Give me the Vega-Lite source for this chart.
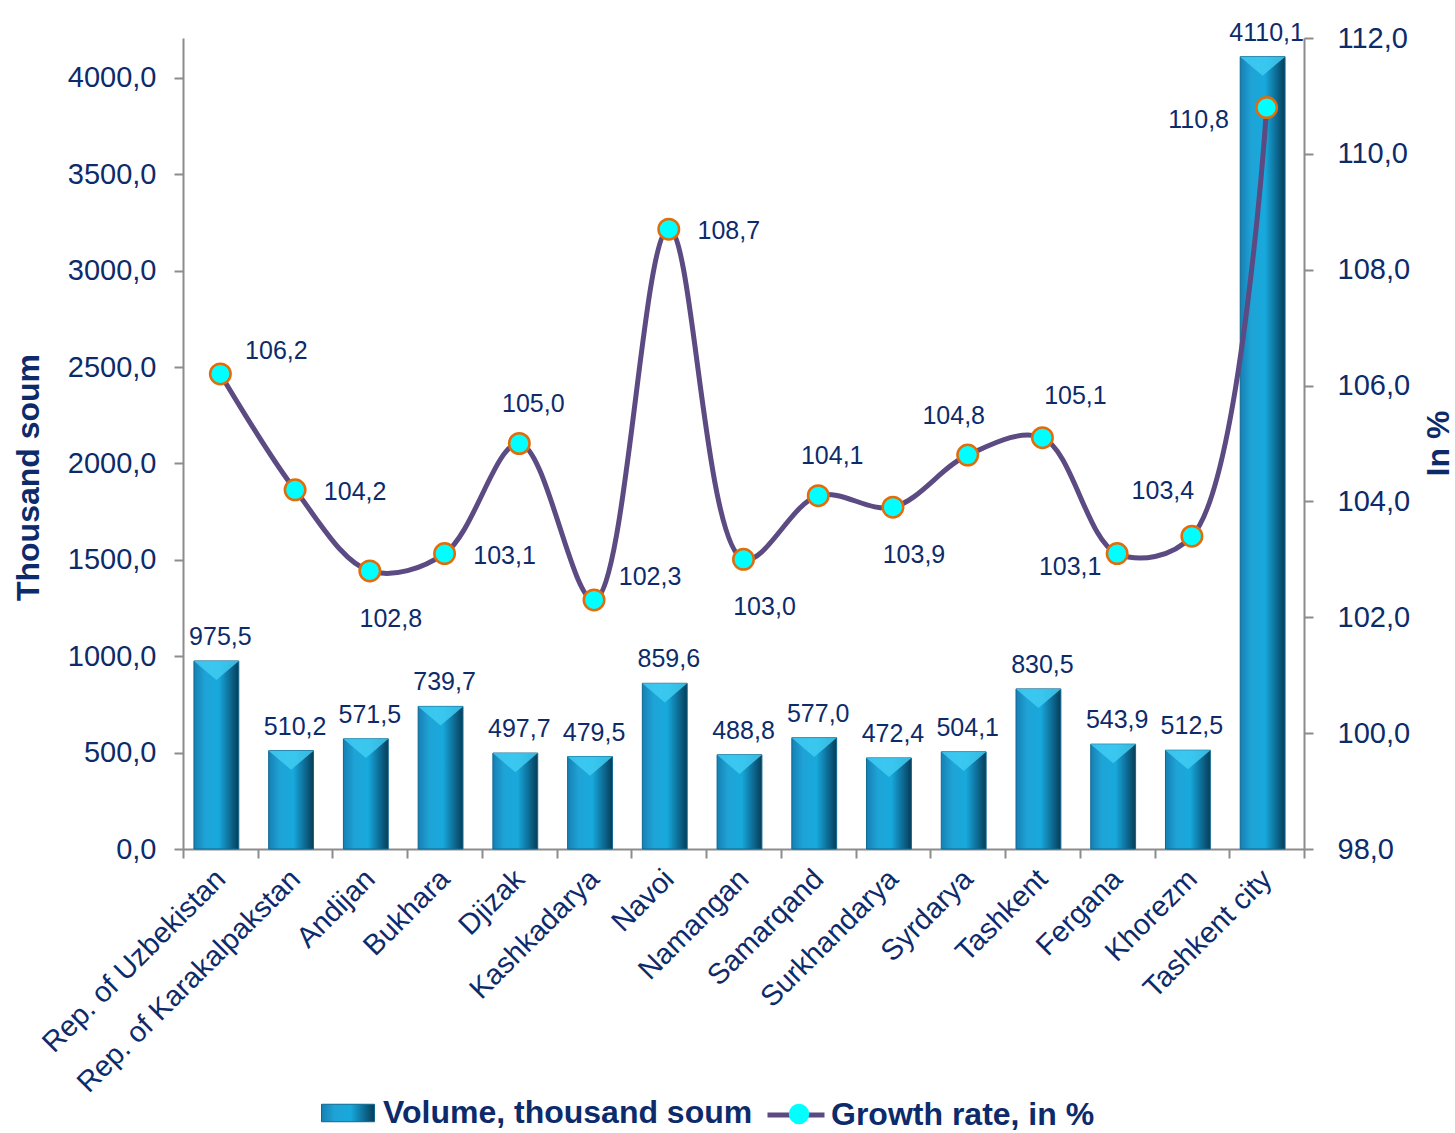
{
  "$schema": "https://vega.github.io/schema/vega-lite/v6.json",
  "width": 1121,
  "height": 811,
  "autosize": {"type": "none"},
  "padding": {"left": 183, "top": 38, "right": 151, "bottom": 284},
  "background": "white",
  "config": {
    "locale": {"number": {"decimal": ",", "thousands": "", "grouping": [3], "currency": ["", ""]}},
    "font": "Liberation Sans",
    "view": {"stroke": null},
    "axis": {
      "grid": false,
      "domainColor": "#8c8c8c",
      "tickColor": "#8c8c8c",
      "domainWidth": 2,
      "tickWidth": 2,
      "labelColor": "#0d2b6b",
      "labelFont": "Liberation Sans",
      "labelFontSize": 29,
      "titleColor": "#0d2b6b",
      "titleFont": "Liberation Sans",
      "titleFontSize": 32,
      "titleFontWeight": "bold"
    },
    "legend": {
      "padding": 0,
      "labelFont": "Liberation Sans",
      "labelFontSize": 32,
      "labelFontWeight": "bold",
      "labelColor": "#0d2b6b",
      "labelLimit": 0
    }
  },
  "data": {
    "values": [
      {"region": "Rep. of Uzbekistan", "volume": 975.5, "growth": 106.2},
      {"region": "Rep. of Karakalpakstan", "volume": 510.2, "growth": 104.2},
      {"region": "Andijan", "volume": 571.5, "growth": 102.8},
      {"region": "Bukhara", "volume": 739.7, "growth": 103.1},
      {"region": "Djizak", "volume": 497.7, "growth": 105.0},
      {"region": "Kashkadarya", "volume": 479.5, "growth": 102.3},
      {"region": "Navoi", "volume": 859.6, "growth": 108.7},
      {"region": "Namangan", "volume": 488.8, "growth": 103.0},
      {"region": "Samarqand", "volume": 577.0, "growth": 104.1},
      {"region": "Surkhandarya", "volume": 472.4, "growth": 103.9},
      {"region": "Syrdarya", "volume": 504.1, "growth": 104.8},
      {"region": "Tashkent", "volume": 830.5, "growth": 105.1},
      {"region": "Fergana", "volume": 543.9, "growth": 103.1},
      {"region": "Khorezm", "volume": 512.5, "growth": 103.4},
      {"region": "Tashkent city", "volume": 4110.1, "growth": 110.8}
    ]
  },
  "encoding": {
    "x": {
      "field": "region",
      "type": "nominal",
      "sort": null,
      "scale": {"paddingInner": 0, "paddingOuter": 0},
      "axis": {
        "title": null,
        "labelAngle": -45,
        "labelAlign": "right",
        "labelBaseline": "middle",
        "tickBand": "extent",
        "tickSize": 9,
        "labelPadding": 16,
        "labelFontSize": 29,
        "labelLimit": 0
      }
    }
  },
  "layer": [
    {
      "layer": [
        {
          "mark": {
            "type": "bar",
            "width": {"band": 0.6},
            "xOffset": -4,
            "strokeWidth": 1,
            "fill": {
              "gradient": "linear", "x1": 0, "x2": 1, "y1": 0, "y2": 0,
              "stops": [
                {"offset": 0, "color": "#1680b4"},
                {"offset": 0.25, "color": "#1fa3d6"},
                {"offset": 0.55, "color": "#18a9dc"},
                {"offset": 0.8, "color": "#0d6c96"},
                {"offset": 1, "color": "#073d57"}
              ]
            }
          },
          "encoding": {
            "y": {
              "field": "volume",
              "type": "quantitative",
              "scale": {"domain": [0, 4207], "nice": false, "zero": true},
              "axis": {
                "orient": "left",
                "values": [0, 500, 1000, 1500, 2000, 2500, 3000, 3500, 4000],
                "format": ".1f",
                "title": "Thousand soum",
                "tickSize": 9,
                "labelPadding": 18,
                "titleAngle": -90,
                "titleBaseline": "middle",
                "titleX": -155,
                "titleY": 439
              }
            },
            "stroke": {
              "datum": "Volume, thousand soum",
              "type": "nominal",
              "scale": {"range": ["#0e6790"]},
              "legend": {
                "orient": "none",
                "legendX": 138,
                "legendY": 1048,
                "title": null,
                "symbolType": "M-1,-0.33H1V0.33H-1Z",
                "symbolSize": 2809,
                "symbolFillColor": "#1a8dc0",
                "symbolStrokeColor": "#0e6790",
                "symbolStrokeWidth": 1,
                "labelOffset": 8
              }
            }
          }
        },
        {
          "mark": {
            "type": "point",
            "shape": "M-1,0L1,0L0,0.85Z",
            "size": 2025,
            "filled": true,
            "fill": "#3fcdf3",
            "opacity": 0.85,
            "strokeWidth": 0,
            "xOffset": -4
          },
          "encoding": {"y": {"field": "volume", "type": "quantitative"}}
        },
        {
          "mark": {"type": "text", "dy": -16, "baseline": "alphabetic", "align": "center", "fontSize": 25, "color": "#0d2b6b"},
          "encoding": {
            "y": {"field": "volume", "type": "quantitative"},
            "text": {"field": "volume", "type": "quantitative", "format": ".1f"}
          }
        }
      ]
    },
    {
      "layer": [
        {
          "mark": {"type": "line", "interpolate": "catmull-rom", "strokeWidth": 5},
          "encoding": {
            "y": {
              "field": "growth",
              "type": "quantitative",
              "scale": {"domain": [98, 112], "nice": false, "zero": false},
              "axis": {
                "orient": "right",
                "values": [98, 100, 102, 104, 106, 108, 110, 112],
                "format": ".1f",
                "title": "In %",
                "tickSize": 9,
                "labelPadding": 24,
                "titleAngle": -90,
                "titleBaseline": "middle",
                "titleX": 134,
                "titleY": 405
              }
            },
            "color": {
              "datum": "Growth rate, in %",
              "type": "nominal",
              "scale": {"range": ["#5c4a82"]},
              "legend": {
                "orient": "none",
                "legendX": 582,
                "legendY": 1046,
                "title": null,
                "symbolType": "M-1,0H1",
                "symbolSize": 3249,
                "symbolStrokeWidth": 5,
                "labelOffset": 4
              }
            }
          }
        },
        {
          "mark": {"type": "point", "filled": true, "fill": "#00ffff", "stroke": "#e36c09", "strokeWidth": 2.5, "size": 420, "opacity": 1},
          "encoding": {
            "y": {"field": "growth", "type": "quantitative"},
            "shape": {
              "datum": "Growth marker",
              "type": "nominal",
              "scale": {"range": ["circle"]},
              "legend": {
                "orient": "none",
                "legendX": 600,
                "legendY": 1060,
                "title": null,
                "symbolSize": 420,
                "symbolFillColor": "#00ffff",
                "symbolStrokeColor": "#e36c09",
                "symbolStrokeWidth": 2.5,
                "labelExpr": "''"
              }
            }
          }
        },
        {
          "transform": [{"filter": {"field": "region", "oneOf": ["Rep. of Uzbekistan", "Kashkadarya"]}}],
          "mark": {"type": "text", "dx": 56, "dy": -23, "fontSize": 25, "color": "#0d2b6b", "baseline": "middle"},
          "encoding": {"y": {"field": "growth", "type": "quantitative"}, "text": {"field": "growth", "type": "quantitative", "format": ".1f"}}
        },
        {
          "transform": [{"filter": {"field": "region", "oneOf": ["Rep. of Karakalpakstan", "Bukhara", "Navoi"]}}],
          "mark": {"type": "text", "dx": 60, "dy": 2, "fontSize": 25, "color": "#0d2b6b", "baseline": "middle"},
          "encoding": {"y": {"field": "growth", "type": "quantitative"}, "text": {"field": "growth", "type": "quantitative", "format": ".1f"}}
        },
        {
          "transform": [{"filter": {"field": "region", "oneOf": ["Andijan", "Namangan", "Surkhandarya"]}}],
          "mark": {"type": "text", "dx": 21, "dy": 48, "fontSize": 25, "color": "#0d2b6b", "baseline": "middle"},
          "encoding": {"y": {"field": "growth", "type": "quantitative"}, "text": {"field": "growth", "type": "quantitative", "format": ".1f"}}
        },
        {
          "transform": [{"filter": {"field": "region", "oneOf": ["Djizak", "Samarqand"]}}],
          "mark": {"type": "text", "dx": 14, "dy": -40, "fontSize": 25, "color": "#0d2b6b", "baseline": "middle"},
          "encoding": {"y": {"field": "growth", "type": "quantitative"}, "text": {"field": "growth", "type": "quantitative", "format": ".1f"}}
        },
        {
          "transform": [{"filter": {"field": "region", "oneOf": ["Syrdarya"]}}],
          "mark": {"type": "text", "dx": -14, "dy": -39, "fontSize": 25, "color": "#0d2b6b", "baseline": "middle"},
          "encoding": {"y": {"field": "growth", "type": "quantitative"}, "text": {"field": "growth", "type": "quantitative", "format": ".1f"}}
        },
        {
          "transform": [{"filter": {"field": "region", "oneOf": ["Tashkent"]}}],
          "mark": {"type": "text", "dx": 33, "dy": -42, "fontSize": 25, "color": "#0d2b6b", "baseline": "middle"},
          "encoding": {"y": {"field": "growth", "type": "quantitative"}, "text": {"field": "growth", "type": "quantitative", "format": ".1f"}}
        },
        {
          "transform": [{"filter": {"field": "region", "oneOf": ["Fergana"]}}],
          "mark": {"type": "text", "dx": -47, "dy": 13, "fontSize": 25, "color": "#0d2b6b", "baseline": "middle"},
          "encoding": {"y": {"field": "growth", "type": "quantitative"}, "text": {"field": "growth", "type": "quantitative", "format": ".1f"}}
        },
        {
          "transform": [{"filter": {"field": "region", "oneOf": ["Khorezm"]}}],
          "mark": {"type": "text", "dx": -29, "dy": -45, "fontSize": 25, "color": "#0d2b6b", "baseline": "middle"},
          "encoding": {"y": {"field": "growth", "type": "quantitative"}, "text": {"field": "growth", "type": "quantitative", "format": ".1f"}}
        },
        {
          "transform": [{"filter": {"field": "region", "oneOf": ["Tashkent city"]}}],
          "mark": {"type": "text", "dx": -68, "dy": 12, "fontSize": 25, "color": "#0d2b6b", "baseline": "middle"},
          "encoding": {"y": {"field": "growth", "type": "quantitative"}, "text": {"field": "growth", "type": "quantitative", "format": ".1f"}}
        }
      ]
    }
  ],
  "resolve": {"scale": {"y": "independent"}}
}
